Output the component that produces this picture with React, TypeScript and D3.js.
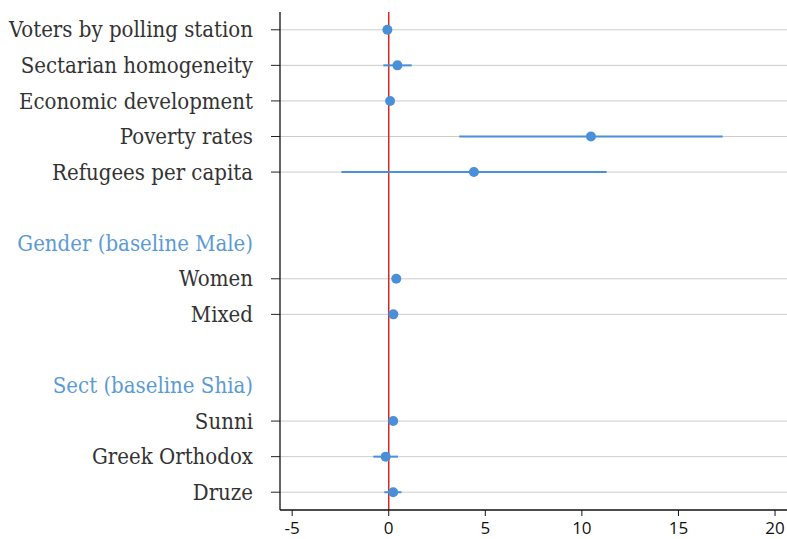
import React from 'react';
import * as d3 from 'd3';

// rows from top to bottom; blank strings are spacer rows
const rowLabels = [
    'Voters by polling station',
    'Sectarian homogeneity',
    'Economic development',
    'Poverty rates',
    'Refugees per capita',
    '',
    'Gender (baseline Male)',
    'Women',
    'Mixed',
    '',
    'Sect (baseline Shia)',
    'Sunni',
    'Greek Orthodox',
    'Druze'
];
const headerLabels = ['Gender (baseline Male)', 'Sect (baseline Shia)'];

const termNames = [
    'Voters by polling station',
    'Sectarian homogeneity',
    'Economic development',
    'Poverty rates',
    'Refugees per capita',
    'Women',
    'Mixed',
    'Sunni',
    'Greek Orthodox',
    'Druze'
];
const estimates = [-0.07, 0.45, 0.07, 10.47, 4.41, 0.39, 0.24, 0.23, -0.16, 0.23];
const lowerCI = [-0.1, -0.28, 0.0, 3.65, -2.45, 0.3, 0.15, 0.12, -0.8, -0.23];
const upperCI = [-0.04, 1.19, 0.14, 17.29, 11.28, 0.48, 0.33, 0.34, 0.48, 0.66];
const xTicks = [-5, 0, 5, 10, 15, 20];

const width = 787;
const height = 539;
const margin = { top: 12, right: 0, bottom: 29, left: 280 };

export default function App() {
    const x = d3.scaleLinear()
        .domain([-5.63, 20.62])
        .range([margin.left, width - margin.right]);

    const y = d3.scaleBand<number>()
        .domain(d3.range(rowLabels.length))
        .range([margin.top, height - margin.bottom])
        .padding(0);

    const rowY = (i: number) => (y(i) as number) + y.bandwidth() / 2;
    const bottom = height - margin.bottom;
    const blue = '#4a90d9';

    const terms = termNames.map((name, i) => ({
        name,
        row: rowLabels.indexOf(name),
        est: estimates[i],
        lo: lowerCI[i],
        hi: upperCI[i]
    }));

    return (
        <svg width={width} height={height} style={{ position: 'absolute', left: 0, top: 0 }}>
            <rect width={width} height={height} fill="#ffffff" />

            {/* gridlines and y ticks for each term */}
            {terms.map(t => (
                <g key={'g' + t.name}>
                    <line x1={margin.left} x2={width} y1={rowY(t.row)} y2={rowY(t.row)}
                        stroke="#cccccc" strokeWidth={1} />
                    <line x1={margin.left - 9} x2={margin.left} y1={rowY(t.row)} y2={rowY(t.row)}
                        stroke="#222" strokeWidth={1} />
                </g>
            ))}

            {/* row labels */}
            {rowLabels.map((label, i) => label === '' ? null : (
                <text key={'l' + i}
                    x={253} y={rowY(i)} dy="0.35em"
                    textAnchor="end"
                    fontFamily="'DejaVu Serif Condensed', 'DejaVu Serif', serif"
                    fontSize={22}
                    fill={headerLabels.includes(label) ? '#5b9bd5' : '#333333'}>
                    {label}
                </text>
            ))}

            {/* zero reference line */}
            <line x1={x(0)} x2={x(0)} y1={margin.top} y2={bottom} stroke="#d62728" strokeWidth={1.5} />

            {/* confidence intervals and estimates */}
            {terms.map(t => (
                <g key={'p' + t.name}>
                    <line x1={x(t.lo)} x2={x(t.hi)} y1={rowY(t.row)} y2={rowY(t.row)}
                        stroke={blue} strokeWidth={2} />
                    <circle cx={x(t.est)} cy={rowY(t.row)} r={5} fill={blue} />
                </g>
            ))}

            {/* axes */}
            <line x1={margin.left} x2={margin.left} y1={margin.top} y2={bottom} stroke="#111" strokeWidth={1.3} />
            <line x1={margin.left} x2={width} y1={bottom} y2={bottom} stroke="#111" strokeWidth={1.3} />
            {xTicks.map(v => (
                <g key={'t' + v}>
                    <line x1={x(v)} x2={x(v)} y1={bottom} y2={bottom + 6} stroke="#111" strokeWidth={1} />
                    <text x={x(v)} y={bottom + 24} textAnchor="middle"
                        fontFamily="'Open Sans', 'Noto Sans', sans-serif" fontSize={17} fill="#111">
                        {v}
                    </text>
                </g>
            ))}
        </svg>
    );
}
